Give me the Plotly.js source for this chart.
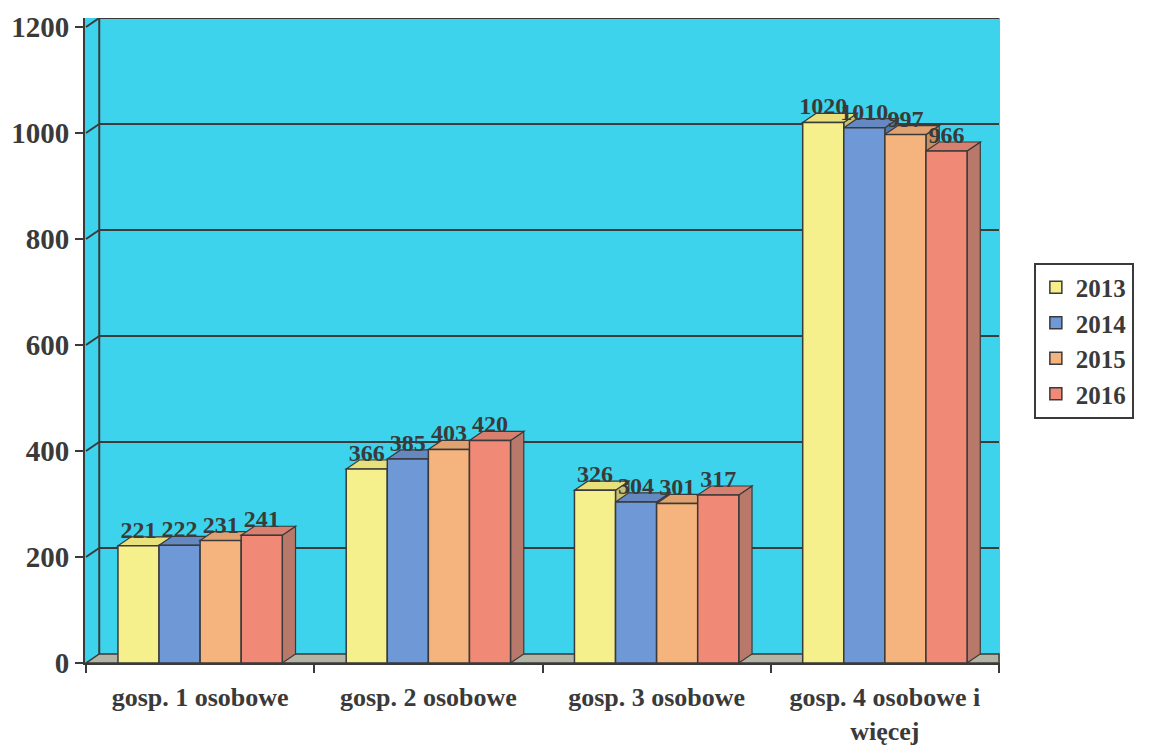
<!DOCTYPE html>
<html><head><meta charset="utf-8">
<script src="https://cdn.plot.ly/plotly-3.0.1.min.js"></script>
<style>html,body{margin:0;padding:0;background:#fff;}</style>
</head><body>
<div id="chart" style="width:1152px;height:753px;"></div>
<script>
const categories = ["gosp. 1 osobowe", "gosp. 2 osobowe", "gosp. 3 osobowe", "gosp. 4 osobowe i<br>więcej"];
const years = ["2013", "2014", "2015", "2016"];
const v2013 = [221, 366, 326, 1020];
const v2014 = [222, 385, 304, 1010];
const v2015 = [231, 403, 301, 997];
const v2016 = [241, 420, 317, 966];
const yTicks = [0, 200, 400, 600, 800, 1000, 1200];
const colors = ["#f6f08c", "#6f98d6", "#f5b47e", "#f08a76"];
const sideColors = ["#c9c272", "#5676a8", "#c89062", "#b8786a"];
const topColors = ["#e8e07a", "#6588c0", "#e0a270", "#d88070"];

const series = [v2013, v2014, v2015, v2016];
const fam = "Liberation Serif";
const ink = "#3a3a3a";
const bargap = 0.28;
const barW = (1 - bargap) / series.length;
const dx = 0.058, dy = 17; // depth of pseudo-3D faces
const xL = -0.5, xR = 3.5;

const traces = series.map((vals, i) => ({
  type: "bar",
  name: years[i],
  x: categories,
  y: vals,
  marker: {color: colors[i], line: {color: ink, width: 1.5}},
  text: vals.map(String),
  textposition: "outside",
  constraintext: "none",
  cliponaxis: false,
  textfont: {family: fam, size: 24, color: ink, weight: "bold"}
}));

const shapes = [];
// back-wall gridlines with left-wall connectors
yTicks.forEach(v => {
  if (v > 0) {
    shapes.push({type: "line", xref: "x", yref: "y", layer: "below",
      x0: xL, y0: v, x1: xL + dx, y1: v + dy, line: {color: ink, width: 2}});
    shapes.push({type: "line", xref: "x", yref: "y", layer: "below",
      x0: xL + dx, y0: v + dy, x1: xR, y1: v + dy, line: {color: ink, width: 2}});
  }
});
// left wall back edge
shapes.push({type: "line", xref: "x", yref: "y", layer: "below",
  x0: xL + dx, y0: dy, x1: xL + dx, y1: yTicks[yTicks.length - 1] + dy, line: {color: ink, width: 2}});
// floor
shapes.push({type: "path", xref: "x", yref: "y", layer: "between",
  path: `M ${xL},0 L ${xR},0 L ${xR},${dy} L ${xL + dx},${dy} Z`,
  fillcolor: "#b4b4a4", line: {color: ink, width: 1.5}});
series.forEach((vals, i) => {
  vals.forEach((v, c) => {
    const x0 = c - (1 - bargap) / 2 + barW * i;
    const x1 = x0 + barW;
    shapes.push({type: "path", xref: "x", yref: "y", layer: "between",
      path: `M ${x1},${v} L ${x1 + dx},${v + dy} L ${x1 + dx},${dy} L ${x1},0 Z`,
      fillcolor: sideColors[i], line: {color: ink, width: 1.2}});
    shapes.push({type: "path", xref: "x", yref: "y", layer: "between",
      path: `M ${x0},${v} L ${x0 + dx},${v + dy} L ${x1 + dx},${v + dy} L ${x1},${v} Z`,
      fillcolor: topColors[i], line: {color: ink, width: 1.2}});
  });
});

const layout = {
  width: 1152, height: 753,
  margin: {l: 85, r: 152, t: 18, b: 90},
  paper_bgcolor: "#ffffff",
  plot_bgcolor: "#3dd3ec",
  barmode: "group",
  bargap: bargap,
  bargroupgap: 0,
  showlegend: true,
  shapes: shapes,
  legend: {
    x: 1.037, y: 0.5, xanchor: "left", yanchor: "middle",
    bordercolor: ink, borderwidth: 2, bgcolor: "#ffffff",
    font: {family: fam, size: 25, color: ink, weight: "bold"},
    tracegroupgap: 0, itemwidth: 30
  },
  xaxis: {
    type: "category",
    tickson: "boundaries",
    ticks: "outside", ticklen: 8, tickcolor: ink, tickwidth: 2,
    showline: true, linecolor: ink, linewidth: 2,
    tickfont: {family: fam, size: 26, color: ink, weight: "bold"},
    ticklabelstandoff: 10,
    showgrid: false
  },
  yaxis: {
    range: [0, yTicks[yTicks.length - 1] + dy],
    tickvals: yTicks,
    ticktext: yTicks.map(String),
    ticks: "outside", ticklen: 8, tickcolor: ink, tickwidth: 2,
    showline: true, linecolor: ink, linewidth: 2,
    showgrid: false,
    tickfont: {family: fam, size: 29, color: ink, weight: "bold"},
    zeroline: false
  }
};
Plotly.newPlot("chart", traces, layout, {displayModeBar: false, staticPlot: true});
</script>
</body></html>
